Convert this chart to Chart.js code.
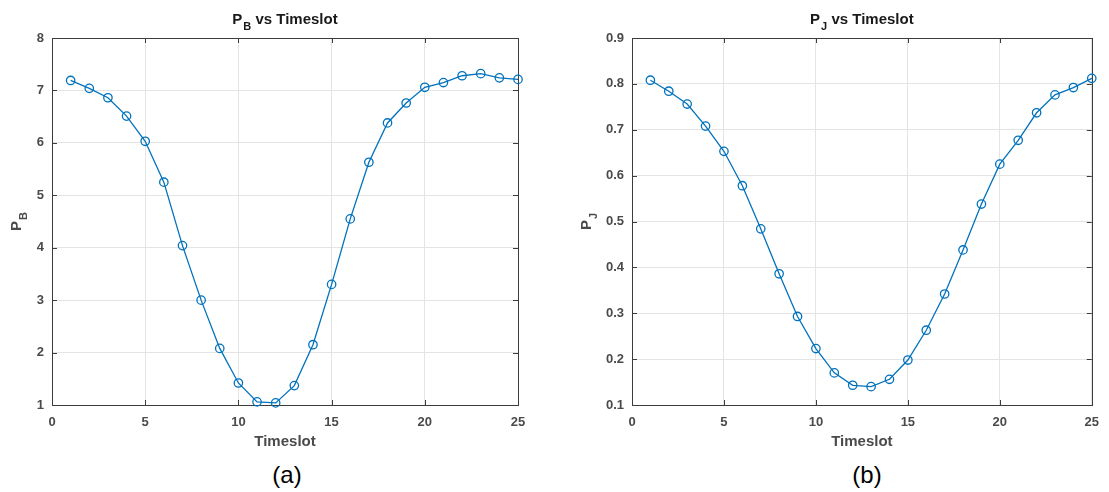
<!DOCTYPE html>
<html>
<head>
<meta charset="utf-8">
<title>P_B and P_J vs Timeslot</title>
<script src="https://cdn.jsdelivr.net/npm/chart.js@4.4.0/dist/chart.umd.min.js"></script>
<style>
	body { margin: 0; background: #fff; width: 1109px; height: 492px; position: relative; overflow: hidden; font-family: "Liberation Sans", Arial, sans-serif; }
	#boxB { position: absolute; left: 0; top: 0; }
	#boxJ { position: absolute; left: 555px; top: 0; }
	.cap { position: absolute; top: 463px; width: 100px; text-align: center; font-size: 24px; line-height: 24px; color: #000; }
</style>
</head>
<body>
<div id="boxB"><canvas id="chartB" width="555" height="460"></canvas></div>
<div id="boxJ"><canvas id="chartJ" width="554" height="460"></canvas></div>
<div class="cap" style="left:237px">(a)</div>
<div class="cap" style="left:817px">(b)</div>

<script>
// data
var timeslots = [1, 2, 3, 4, 5, 6, 7, 8, 9, 10, 11, 12, 13, 14, 15, 16, 17, 18, 19, 20, 21, 22, 23, 24, 25];
var pB = [7.19, 7.04, 6.86, 6.51, 6.03, 5.25, 4.04, 3.00, 2.08, 1.42, 1.06, 1.04, 1.37, 2.15, 3.30,
	4.55, 5.63, 6.38, 6.76, 7.06, 7.15, 7.28, 7.32, 7.24, 7.21];
var pJ = [0.808, 0.784, 0.756, 0.708, 0.653, 0.578, 0.484, 0.386, 0.293, 0.223, 0.170, 0.143, 0.140,
	0.156, 0.198, 0.263, 0.342, 0.438, 0.538, 0.625, 0.677, 0.737, 0.776, 0.792, 0.812];
var xTicks = [0, 5, 10, 15, 20, 25];
var yTicksB = [1, 2, 3, 4, 5, 6, 7, 8];
var yTicksJ = [0.1, 0.2, 0.3, 0.4, 0.5, 0.6, 0.7, 0.8, 0.9];

var lineBlue = '#0072bd';
var axisCol = '#3c3c3c';
var tickCol = '#4a4a4a';
var gridCol = '#e4e4e4';
var fontFam = '"Liberation Sans", Arial, sans-serif';

function toPoints(vals) {
	return timeslots.map(function(t, i) { return {x: t, y: vals[i]}; });
}

// text like P with a subscript, centred on cx
function drawSub(ctx, main, sub, rest, cx, y) {
	ctx.font = 'bold 15px ' + fontFam;
	var w1 = ctx.measureText(main).width;
	var w3 = ctx.measureText(rest).width;
	ctx.font = 'bold 11px ' + fontFam;
	var w2 = ctx.measureText(sub).width + 1;
	var x = cx - (w1 + w2 + w3) / 2;
	ctx.textAlign = 'left';
	ctx.textBaseline = 'alphabetic';
	ctx.font = 'bold 15px ' + fontFam;
	ctx.fillText(main, x, y);
	ctx.fillText(rest, x + w1 + w2, y);
	ctx.font = 'bold 11px ' + fontFam;
	ctx.fillText(sub, x + w1 + 1, y + 6);
}

// box, inward ticks and subscript labels, the matlab way
var matlabAxes = {
	id: 'matlabAxes',
	beforeDatasetsDraw: function(chart) {
		var ctx = chart.ctx, a = chart.chartArea;
		var xs = chart.scales.x, ys = chart.scales.y;
		ctx.save();
		ctx.strokeStyle = axisCol;
		ctx.lineWidth = 1;
		ctx.beginPath();
		xs.ticks.forEach(function(t) {
			var px = Math.round(xs.getPixelForValue(t.value)) + 0.5;
			ctx.moveTo(px, a.bottom); ctx.lineTo(px, a.bottom - 5);
			ctx.moveTo(px, a.top); ctx.lineTo(px, a.top + 5);
		});
		ys.ticks.forEach(function(t) {
			var py = Math.round(ys.getPixelForValue(t.value)) + 0.5;
			ctx.moveTo(a.left, py); ctx.lineTo(a.left + 5, py);
			ctx.moveTo(a.right, py); ctx.lineTo(a.right - 5, py);
		});
		ctx.stroke();
		ctx.strokeRect(Math.round(a.left) + 0.5, Math.round(a.top) + 0.5,
			Math.round(a.right - a.left), Math.round(a.bottom - a.top));
		ctx.restore();
	},
	afterDraw: function(chart, args, opts) {
		var ctx = chart.ctx, a = chart.chartArea;
		ctx.save();
		ctx.fillStyle = '#1a1a1a';
		drawSub(ctx, opts.main, opts.sub, ' vs Timeslot', (a.left + a.right) / 2, 24);
		ctx.fillStyle = tickCol;
		ctx.translate(opts.labelX, (a.top + a.bottom) / 2);
		ctx.rotate(-Math.PI / 2);
		drawSub(ctx, opts.main, opts.sub, '', 0, 0);
		ctx.restore();
	}
};

function makeConfig(vals, yMin, yMax, yStep, yTicks, yWidth, padRight, main, sub, labelX) {
	return {
		type: 'line',
		data: {
			datasets: [{
				data: toPoints(vals),
				borderColor: lineBlue,
				borderWidth: 1.3,
				backgroundColor: 'rgba(0,0,0,0)',
				pointRadius: 4.2,
				pointBorderWidth: 1.3,
				pointBorderColor: lineBlue,
				pointBackgroundColor: 'rgba(0,0,0,0)',
				tension: 0,
				clip: false
			}]
		},
		options: {
			responsive: false,
			animation: false,
			layout: { padding: { top: 38, right: padRight, bottom: 5, left: 0 } },
			plugins: {
				legend: { display: false },
				tooltip: { enabled: false },
				matlabAxes: { main: main, sub: sub, labelX: labelX }
			},
			scales: {
				x: {
					type: 'linear',
					min: 0, max: 25,
					afterBuildTicks: function(s) { s.ticks = xTicks.map(function(v) { return {value: v}; }); },
					ticks: { color: tickCol, font: { family: fontFam, size: 13, weight: 'bold' }, padding: 10, maxRotation: 0 },
					grid: { color: gridCol, drawTicks: false },
					border: { display: false },
					title: { display: true, text: 'Timeslot', color: tickCol, font: { family: fontFam, size: 15, weight: 'bold' }, padding: { top: 4, bottom: 4 } },
					afterFit: function(s) { s.height = 50; }
				},
				y: {
					type: 'linear',
					min: yMin, max: yMax,
					afterBuildTicks: function(s) { s.ticks = yTicks.map(function(v) { return {value: v}; }); },
					ticks: {
						color: tickCol, font: { family: fontFam, size: 13, weight: 'bold' }, padding: 8,
						callback: function(v) { return yStep < 1 ? v.toFixed(1) : v; }
					},
					grid: { color: gridCol, drawTicks: false },
					border: { display: false },
					afterFit: function(s) { s.width = yWidth; }
				}
			}
		},
		plugins: [matlabAxes]
	};
}

var chartB = new Chart(document.getElementById('chartB'),
	makeConfig(pB, 1, 8, 1, yTicksB, 52, 37, 'P', 'B', 21));
var chartJ = new Chart(document.getElementById('chartJ'),
	makeConfig(pJ, 0.1, 0.9, 0.1, yTicksJ, 77, 9, 'P', 'J', 36));
</script>
</body>
</html>
